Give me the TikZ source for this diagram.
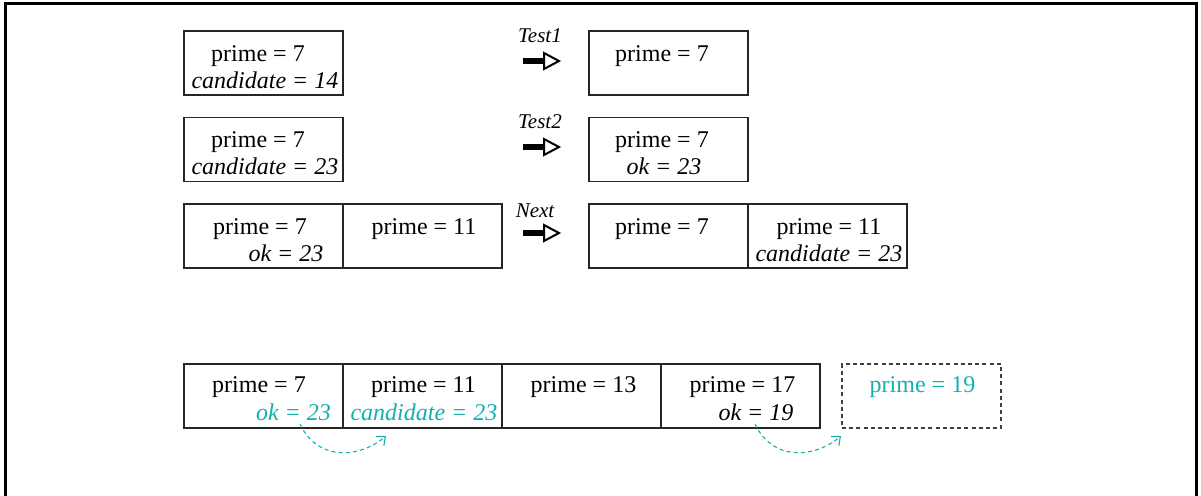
\documentclass[tikz,border=0pt]{standalone}
\usepackage{fontspec}
\setmainfont{Liberation Serif}
\usetikzlibrary{arrows.meta}
\definecolor{tealc}{RGB}{20,175,175}
\tikzset{
  cell/.style={draw=black!85, line width=0.6pt, rectangle, minimum width=79.5pt, minimum height=32pt, inner sep=0pt, outer sep=0pt},
  dashcell/.style={cell, draw=black!75, dash pattern=on 2pt off 1.6pt},
  txt/.style={inner sep=0pt, anchor=base, font=\fontsize{12}{14}\selectfont},
  itxt/.style={txt, font=\fontsize{12}{14}\selectfont\itshape},
  lbl/.style={inner sep=0pt, anchor=base, font=\fontsize{10.5}{12}\selectfont\itshape},
  movearrow/.style={tealc, line width=0.55pt, dash pattern=on 2pt off 1.6pt, -{Straight Barb[length=3.5pt,width=6pt]}},
  bigarrow/.pic={
    \draw[line width=2.7pt] (-18,0) -- (4,0);
    \draw[line width=1pt, fill=white, line join=miter] (3,-8) -- (18,0) -- (3,8) -- cycle;
  }
}
\begin{document}
\begin{tikzpicture}[x=0.5pt,y=-0.5pt]
\useasboundingbox (0,0) rectangle (1201,495);
% frame
\draw[line width=1.5pt] (5,500) -- (5,3) -- (1196,3) -- (1196,500);

% Row 1
\node[cell] (a1) at (263.5,63) {};
\node[txt] (a1p) at (258,61) {prime = 7};
\node[itxt] (a1c) at (265,88) {candidate = 14};
\node[lbl] (t1) at (540,42) {Test1};
\pic at (541,61) {bigarrow};
\node[cell] (b1) at (668.5,63) {};
\node[txt] (b1p) at (662,61) {prime = 7};

% Row 2
\node[cell] (a2) at (263.5,149.5) {};
\node[txt] (a2p) at (258,147) {prime = 7};
\node[itxt] (a2c) at (265,174) {candidate = 23};
\node[lbl] (t2) at (540,128) {Test2};
\pic at (541,147) {bigarrow};
\node[cell] (b2) at (668.5,149.5) {};
\node[txt] (b2p) at (662,147) {prime = 7};
\node[itxt] (b2o) at (664,174) {ok = 23};

% Row 3
\node[cell] (a3) at (263.5,236) {};
\node[cell] (a3b) at (422.5,236) {};
\node[txt] (a3p) at (260,234) {prime = 7};
\node[itxt] (a3o) at (286,261) {ok = 23};
\node[txt] (a3q) at (424,234) {prime = 11};
\node[lbl] (t3) at (535,217) {Next};
\pic at (541,233) {bigarrow};
\node[cell] (b3) at (668.5,236) {};
\node[cell] (b3b) at (827.5,236) {};
\node[txt] (b3p) at (662,234) {prime = 7};
\node[txt] (b3q) at (829,234) {prime = 11};
\node[itxt] (b3c) at (829,261) {candidate = 23};

% Row 4
\node[cell] (c1) at (263.5,396) {};
\node[cell] (c2) at (422.5,396) {};
\node[cell] (c3) at (581.5,396) {};
\node[cell] (c4) at (740.5,396) {};
\node[dashcell] (c5) at (921.5,396) {};
\node[txt] (c1p) at (259,392) {prime = 7};
\node[itxt, text=tealc] (c1o) at (293.5,420.5) {ok = 23};
\node[txt] (c2p) at (423.5,392) {prime = 11};
\node[itxt, text=tealc] (c2c) at (424,420.5) {candidate = 23};
\node[txt] (c3p) at (583.5,392) {prime = 13};
\node[txt] (c4p) at (742.5,392) {prime = 17};
\node[itxt] (c4o) at (756,420.5) {ok = 19};
\node[txt, text=tealc] (c5p) at (922.5,392) {prime = 19};

\coordinate (s1) at (300,424);
\coordinate (e1) at (386,436);
\coordinate (s2) at (755,424);
\coordinate (e2) at (841,436);
\draw[movearrow] (s1) .. controls (318,462) and (360,458) .. (e1);
\draw[movearrow] (s2) .. controls (773,462) and (815,458) .. (e2);
\end{tikzpicture}
\end{document}
